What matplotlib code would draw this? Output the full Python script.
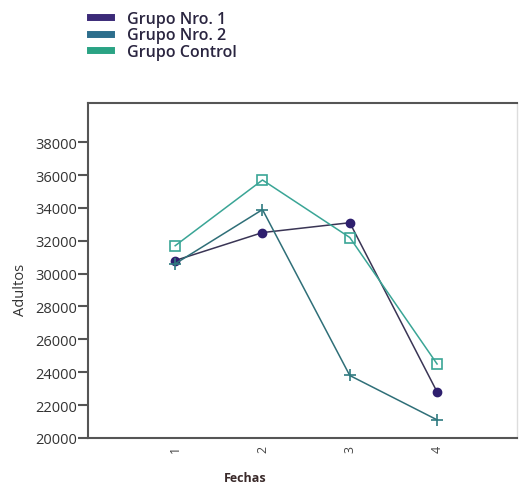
import matplotlib
matplotlib.use('Agg')
import matplotlib.pyplot as plt
from matplotlib.lines import Line2D

plt.rcParams['font.family'] = ['Open Sans', 'DejaVu Sans']

# datos
fechas = [1, 2, 3, 4]
grupo1 = [30800, 32500, 33100, 22800]
grupo2 = [30600, 33900, 23800, 21100]
control = [31700, 35700, 32200, 24500]
nombres = ['Grupo Nro. 1', 'Grupo Nro. 2', 'Grupo Control']

col_leg = ['#3b2a78', '#2d6e8c', '#2aa384']
col_lin = ['#3a3555', '#2f6f78', '#3aa596']

fig = plt.figure(figsize=(5.2, 4.85), dpi=100)
ax = fig.add_axes([0.169, 0.095, 0.826, 0.691])

ax.plot(fechas, grupo1, color=col_lin[0], lw=1.1, marker='o', ms=6,
        mfc='#2e1f6e', mec='#2e1f6e')
ax.plot(fechas, grupo2, color=col_lin[1], lw=1.1, marker='+', ms=8,
        mew=1.2, mec='#2f7a80')
ax.plot(fechas, control, color=col_lin[2], lw=1.1, marker='s', ms=7,
        mfc='none', mec='#3aa596', mew=1.2)

ax.set_xlim(0, 4.92)
ax.set_ylim(20000, 40400)
ax.set_xticks(fechas)
ax.set_xticklabels([str(f) for f in fechas], rotation=90, color='#444444',
                   fontsize=9)
ax.tick_params(axis='x', length=0, pad=5)
ax.set_yticks(range(20000, 38001, 2000))
ax.set_yticklabels([str(v) for v in range(20000, 38001, 2000)],
                   color='#333333', fontsize=10.5)
ax.tick_params(axis='y', length=7, width=1.5, color='#555555', pad=1)

for s in ax.spines.values():
    s.set_color('#555555')
    s.set_linewidth(1.5)
ax.spines['right'].set_color('#dddddd')
ax.spines['right'].set_linewidth(1)

ax.set_xlabel('Fechas', fontsize=9, fontweight='bold', color='#3a2a2a')
ax.xaxis.set_label_coords(0.366, -0.098)
ax.set_ylabel('Adultos', fontsize=10.5, color='#333333')
ax.yaxis.set_label_coords(-0.14, 0.445)

handles = [Line2D([0], [0], color=c, lw=5) for c in col_leg]
fig.legend(handles, nombres, loc='upper left', bbox_to_anchor=(0.145, 1.005),
           frameon=False, handlelength=1.3, handletextpad=1.0,
           labelspacing=0.02, prop={'weight': 'semibold', 'size': 11.5})
for t in fig.legends[0].get_texts():
    t.set_color('#2a2540')

fig.savefig('out.png', dpi=100)
